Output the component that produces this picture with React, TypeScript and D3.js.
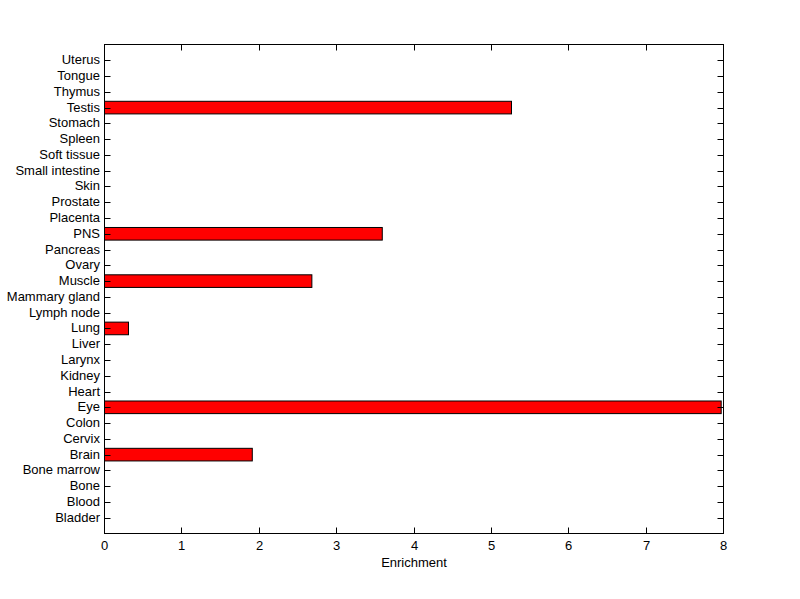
import React from "react";
import * as d3 from "d3";

const categories = [
  "Bladder", "Blood", "Bone", "Bone marrow", "Brain", "Cervix", "Colon", "Eye",
  "Heart", "Kidney", "Larynx", "Liver", "Lung", "Lymph node", "Mammary gland",
  "Muscle", "Ovary", "Pancreas", "PNS", "Placenta", "Prostate", "Skin",
  "Small intestine", "Soft tissue", "Spleen", "Stomach", "Testis", "Thymus",
  "Tongue", "Uterus",
];
const values = [
  0, 0, 0, 0, 1.91, 0, 0, 7.97,
  0, 0, 0, 0, 0.31, 0, 0,
  2.68, 0, 0, 3.59, 0, 0, 0,
  0, 0, 0, 0, 5.26, 0,
  0, 0,
];
const xTicks = [0, 1, 2, 3, 4, 5, 6, 7, 8];

export default function App() {
  const W = 800, H = 599;
  const left = 104.5, right = 723.5, top = 44.5, bottom = 533.5;
  const x = d3.scaleLinear().domain([0, 8]).range([left, right]);
  const y = d3.scaleLinear().domain([0, categories.length + 1]).range([bottom, top]);
  const bw = 0.8 * (y(0) - y(1));
  const font = "'Liberation Sans', Arial, sans-serif";
  return (
    <svg width={W} height={H} style={{ position: "absolute", left: 0, top: 0, background: "#fff" }}>
      <rect x={0} y={0} width={W} height={H} fill="#fff" />
      {categories.map((c, i) =>
        values[i] > 0 ? (
          <rect key={"b" + c} x={x(0)} y={y(i + 1) - bw / 2} width={x(values[i]) - x(0)} height={bw}
            fill="#ff0000" stroke="#000" strokeWidth={1} />
        ) : null
      )}
      <rect x={left} y={top} width={right - left} height={bottom - top} fill="none" stroke="#000" strokeWidth={1} />
      {categories.map((c, i) => {
        const yy = Math.round(y(i + 1)) + 0.5;
        return (
          <g key={"t" + c}>
            <line x1={left} x2={left + 6} y1={yy} y2={yy} stroke="#000" />
            <line x1={right} x2={right - 6} y1={yy} y2={yy} stroke="#000" />
            <text x={100} y={yy} dy="0.28em" textAnchor="end" fontFamily={font} fontSize={13} fill="#000">{c}</text>
          </g>
        );
      })}
      {xTicks.map((t) => {
        const xx = Math.round(x(t) - 0.5) + 0.5;
        return (
          <g key={"x" + t}>
            <line x1={xx} x2={xx} y1={bottom} y2={bottom - 6} stroke="#000" />
            <line x1={xx} x2={xx} y1={top} y2={top + 6} stroke="#000" />
            <text x={xx} y={550} textAnchor="middle" fontFamily={font} fontSize={13} fill="#000">{t}</text>
          </g>
        );
      })}
      <text x={(left + right) / 2} y={567} textAnchor="middle" fontFamily={font} fontSize={13} fill="#000">Enrichment</text>
    </svg>
  );
}
